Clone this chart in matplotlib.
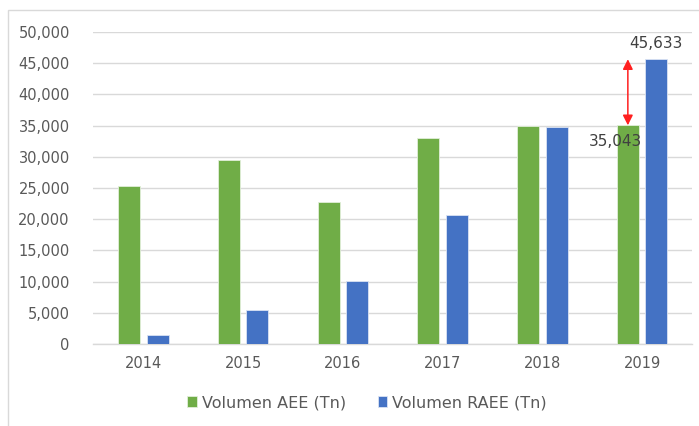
import numpy as np
import matplotlib
matplotlib.use('Agg')
import matplotlib.pyplot as plt
from matplotlib.patches import Rectangle
from matplotlib.ticker import FuncFormatter

# ==================== Data ====================
years = ['2014', '2015', '2016', '2017', '2018', '2019']
aee = [25300, 29500, 22700, 33000, 34950, 35043]
raee = [1500, 5500, 10100, 20600, 34700, 45633]

green = '#70AD47'
blue = '#4472C4'
gray_txt = '#595959'

x = np.arange(len(years))
width = 0.22
off = 0.143

fig = plt.figure(figsize=(6.99, 4.26), dpi=100)
ax = fig.add_axes([0.1336, 0.1925, 0.8564, 0.7325])

ax.bar(x - off, aee, width, color=green, edgecolor='#E2EFDA', linewidth=0.6,
       label='Volumen AEE (Tn)', zorder=3)
ax.bar(x + off, raee, width, color=blue, edgecolor='#DAE3F3', linewidth=0.6,
       label='Volumen RAEE (Tn)', zorder=3)

ax.set_xlim(-0.5, len(years) - 0.5)
ax.set_ylim(0, 50000)
ax.set_yticks(np.arange(0, 50001, 5000))
ax.yaxis.set_major_formatter(FuncFormatter(lambda v, p: f'{int(v):,}'))
ax.set_xticks(x)
ax.set_xticklabels(years)
ax.tick_params(axis='both', length=0, labelsize=10.5, colors=gray_txt)
ax.tick_params(axis='y', pad=17)
ax.tick_params(axis='x', pad=9)

ax.grid(True, axis='y', color='#D9D9D9', linewidth=1, zorder=0)
for s in ['top', 'right', 'left']:
    ax.spines[s].set_visible(False)
ax.spines['bottom'].set_color('#D9D9D9')
ax.spines['bottom'].set_linewidth(1)

# data labels for 2019
ax.annotate(f'{raee[-1]:,}', xy=(x[-1] + off, raee[-1]), xytext=(0, 6),
            textcoords='offset points', ha='center', va='bottom',
            fontsize=11, color='#404040')
ax.annotate(f'{aee[-1]:,}', xy=(x[-1] - off, aee[-1]), xytext=(-9, -6),
            textcoords='offset points', ha='center', va='top',
            fontsize=11, color='#404040', zorder=5)

# red gap arrow
ax.annotate('', xy=(x[-1] - off, raee[-1]), xytext=(x[-1] - off, aee[-1]),
            arrowprops=dict(arrowstyle='<|-|>', color='#FF2020', lw=1.1,
                            mutation_scale=15, shrinkA=0, shrinkB=0),
            zorder=6)

# legend
leg = fig.legend(loc='center', bbox_to_anchor=(0.525, 0.055), ncol=2,
                 frameon=False, fontsize=11.5, handlelength=0.6,
                 handleheight=0.6, handletextpad=0.3, columnspacing=2.0)
for t in leg.get_texts():
    t.set_color(gray_txt)

# outer chart border
fig.patches.append(Rectangle((8 / 699, -0.05), 1.2, 1 - 9.5 / 426 + 0.05,
                             transform=fig.transFigure, fill=False,
                             edgecolor='#D9D9D9', linewidth=1))

fig.savefig('out.png', dpi=100)
